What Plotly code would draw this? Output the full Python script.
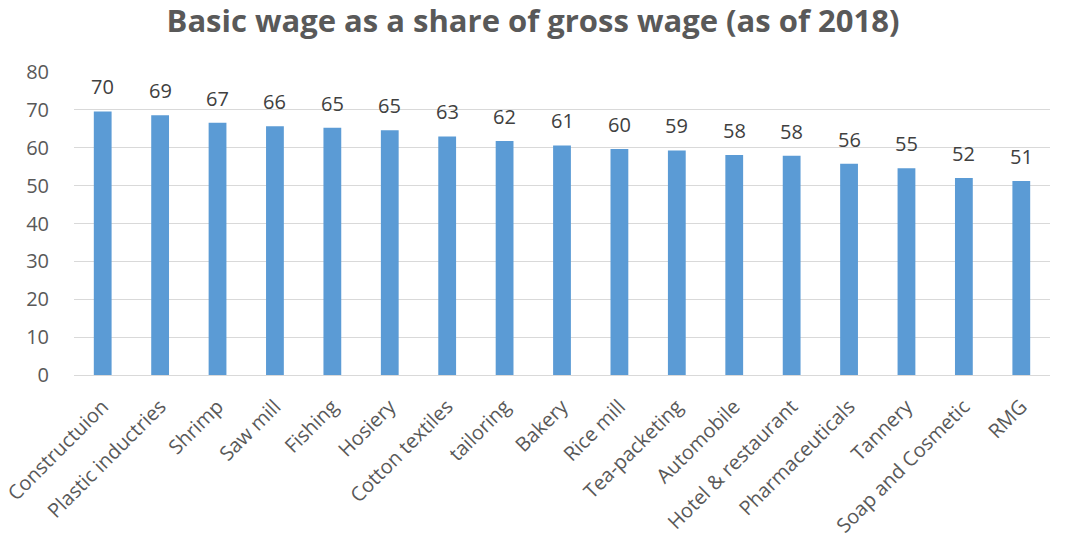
import plotly.graph_objects as go

categories = ["Constructuion", "Plastic inductries", "Shrimp", "Saw mill", "Fishing",
              "Hosiery", "Cotton textiles", "tailoring", "Bakery", "Rice mill",
              "Tea-packeting", "Automobile", "Hotel & restaurant", "Pharmaceuticals",
              "Tannery", "Soap and Cosmetic", "RMG"]
values = [69.6, 68.6, 66.6, 65.7, 65.3, 64.6, 63.0, 61.8, 60.6, 59.7,
          59.3, 58.1, 57.9, 55.8, 54.6, 52.0, 51.2]
labels = ["70", "69", "67", "66", "65", "65", "63", "62", "61", "60",
          "59", "58", "58", "56", "55", "52", "51"]
y_ticks = [0, 10, 20, 30, 40, 50, 60, 70, 80]

font_family = "Open Sans, DejaVu Sans, sans-serif"
grey = "#595959"

fig = go.Figure(go.Bar(
    x=categories, y=values,
    marker=dict(color="#5b9bd5", line=dict(width=0)),
    width=0.31, cliponaxis=False,
))

for c, v, t in zip(categories, values, labels):
    fig.add_annotation(x=c, y=v, text=t, showarrow=False, yanchor="bottom",
                       yshift=9, font=dict(size=20, color="#404040", family=font_family))

fig.update_layout(
    width=1066, height=540,
    paper_bgcolor="white", plot_bgcolor="white",
    margin=dict(l=74, r=16, t=72, b=165),
    title=dict(text="<b>Basic wage as a share of gross wage (as of 2018)</b>",
               x=0.5, xanchor="center", y=0.96, yanchor="middle",
               font=dict(size=31, color=grey, family=font_family)),
    font=dict(family=font_family, color=grey),
    showlegend=False,
)
fig.update_yaxes(range=[0, 80], tickvals=y_ticks, showgrid=True, gridcolor="#d9d9d9",
                 gridwidth=1, zeroline=False, showline=False, automargin=False,
                 tickfont=dict(size=20, color=grey), ticklabelstandoff=24)
fig.update_xaxes(showline=True, linecolor="#d9d9d9", linewidth=1, tickangle=-45,
                 automargin=False,
                 tickfont=dict(size=20, color=grey), ticklabelstandoff=11)

fig.write_html("out.html")
